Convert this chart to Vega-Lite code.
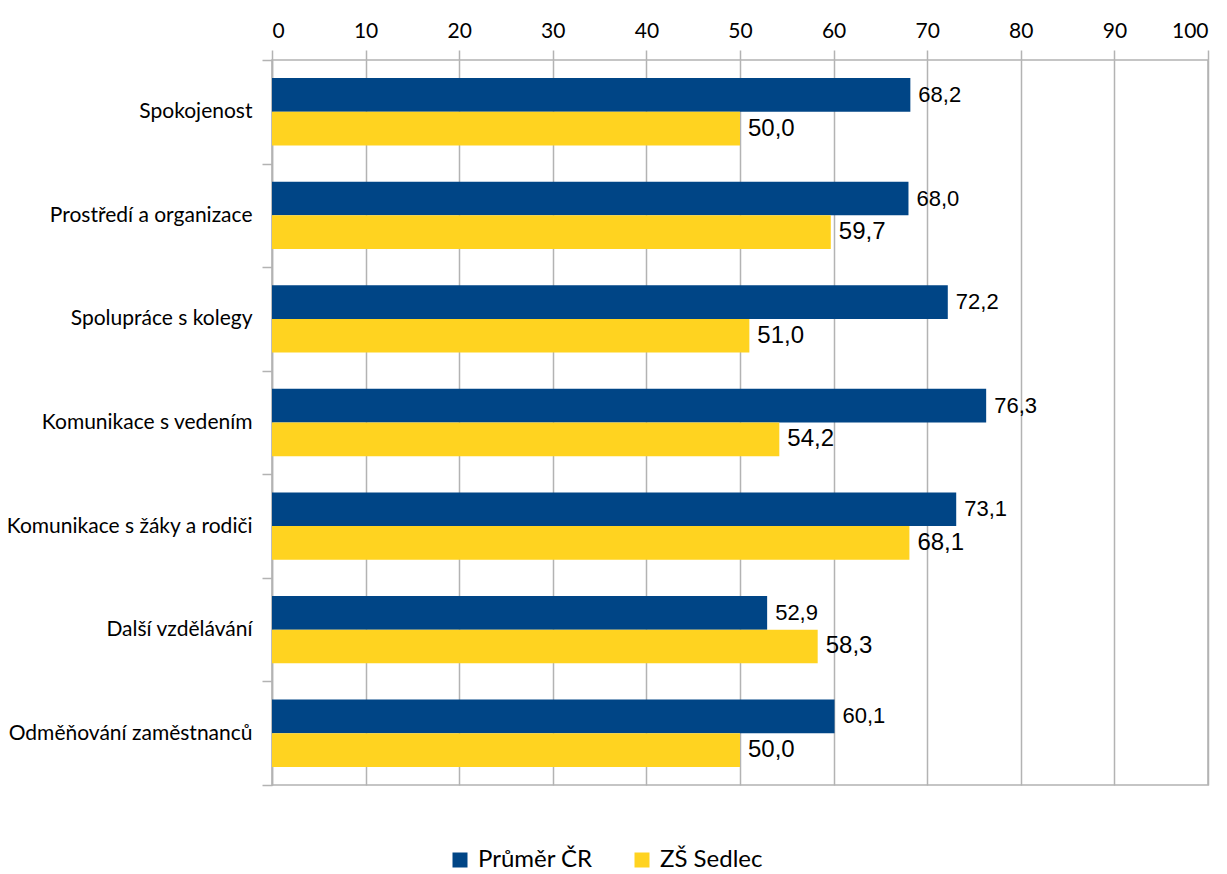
{
  "$schema": "https://vega.github.io/schema/vega-lite/v6.json",
  "width": 936,
  "height": 725,
  "autosize": {"type": "none"},
  "padding": {"left": 272, "top": 60, "right": 19, "bottom": 89},
  "config": {
    "locale": {"number": {"decimal": ",", "thousands": " ", "grouping": [3], "currency": ["", " Kč"]}},
    "view": {"stroke": "#b3b3b3", "strokeWidth": 1.5}
  },
  "data": {
    "values": [
      {"category": "Spokojenost", "series": "Průměr ČR", "value": 68.2},
      {"category": "Spokojenost", "series": "ZŠ Sedlec", "value": 50.0},
      {"category": "Prostředí a organizace", "series": "Průměr ČR", "value": 68.0},
      {"category": "Prostředí a organizace", "series": "ZŠ Sedlec", "value": 59.7},
      {"category": "Spolupráce s kolegy", "series": "Průměr ČR", "value": 72.2},
      {"category": "Spolupráce s kolegy", "series": "ZŠ Sedlec", "value": 51.0},
      {"category": "Komunikace s vedením", "series": "Průměr ČR", "value": 76.3},
      {"category": "Komunikace s vedením", "series": "ZŠ Sedlec", "value": 54.2},
      {"category": "Komunikace s žáky a rodiči", "series": "Průměr ČR", "value": 73.1},
      {"category": "Komunikace s žáky a rodiči", "series": "ZŠ Sedlec", "value": 68.1},
      {"category": "Další vzdělávání", "series": "Průměr ČR", "value": 52.9},
      {"category": "Další vzdělávání", "series": "ZŠ Sedlec", "value": 58.3},
      {"category": "Odměňování zaměstnanců", "series": "Průměr ČR", "value": 60.1},
      {"category": "Odměňování zaměstnanců", "series": "ZŠ Sedlec", "value": 50.0}
    ]
  },
  "encoding": {
    "y": {
      "field": "category",
      "type": "nominal",
      "sort": null,
      "scale": {"paddingInner": 0, "paddingOuter": 0},
      "axis": {
        "title": null,
        "tickBand": "extent",
        "domainColor": "#b3b3b3",
        "domainWidth": 1.5,
        "tickColor": "#b3b3b3",
        "tickWidth": 1.5,
        "tickSize": 10,
        "grid": false,
        "labelFont": "Lato",
        "labelFontSize": 21,
        "labelColor": "#000000",
        "labelPadding": 10,
        "labelLimit": 300
      }
    },
    "yOffset": {
      "field": "series",
      "type": "nominal",
      "sort": ["Průměr ČR", "ZŠ Sedlec"],
      "scale": {"paddingInner": 0, "paddingOuter": 0.537}
    },
    "x": {
      "field": "value",
      "type": "quantitative",
      "scale": {"domain": [0, 100], "nice": false},
      "axis": {
        "title": null,
        "orient": "top",
        "values": [0, 10, 20, 30, 40, 50, 60, 70, 80, 90, 100],
        "format": "d",
        "grid": true,
        "gridColor": "#b3b3b3",
        "gridWidth": 1.5,
        "domain": false,
        "tickColor": "#b3b3b3",
        "tickWidth": 1.5,
        "tickSize": 10,
        "labelFont": "Lato",
        "labelFontSize": 21,
        "labelColor": "#000000",
        "labelPadding": 9
      }
    }
  },
  "layer": [
    {
      "mark": {"type": "bar"},
      "encoding": {
        "color": {
          "field": "series",
          "type": "nominal",
          "sort": ["Průměr ČR", "ZŠ Sedlec"],
          "scale": {"domain": ["Průměr ČR", "ZŠ Sedlec"], "range": ["#004586", "#ffd320"]},
          "legend": {
            "title": null,
            "orient": "none",
            "direction": "horizontal",
            "columns": 2,
            "legendX": 176,
            "legendY": 788,
            "symbolType": "square",
            "symbolSize": 225,
            "symbolStrokeWidth": 0,
            "labelFont": "Lato",
            "labelFontSize": 24,
            "labelColor": "#000000",
            "labelOffset": 6,
            "columnPadding": 37
          }
        }
      }
    },
    {
      "transform": [{"filter": "datum.series === 'Průměr ČR'"}],
      "mark": {"type": "text", "align": "left", "baseline": "middle", "dx": 8, "font": "Liberation Sans", "fontSize": 22, "color": "#000000"},
      "encoding": {"text": {"field": "value", "type": "quantitative", "format": ".1f"}}
    },
    {
      "transform": [{"filter": "datum.series === 'ZŠ Sedlec'"}],
      "mark": {"type": "text", "align": "left", "baseline": "middle", "dx": 8, "font": "Liberation Sans", "fontSize": 24, "color": "#000000"},
      "encoding": {"text": {"field": "value", "type": "quantitative", "format": ".1f"}}
    }
  ]
}
